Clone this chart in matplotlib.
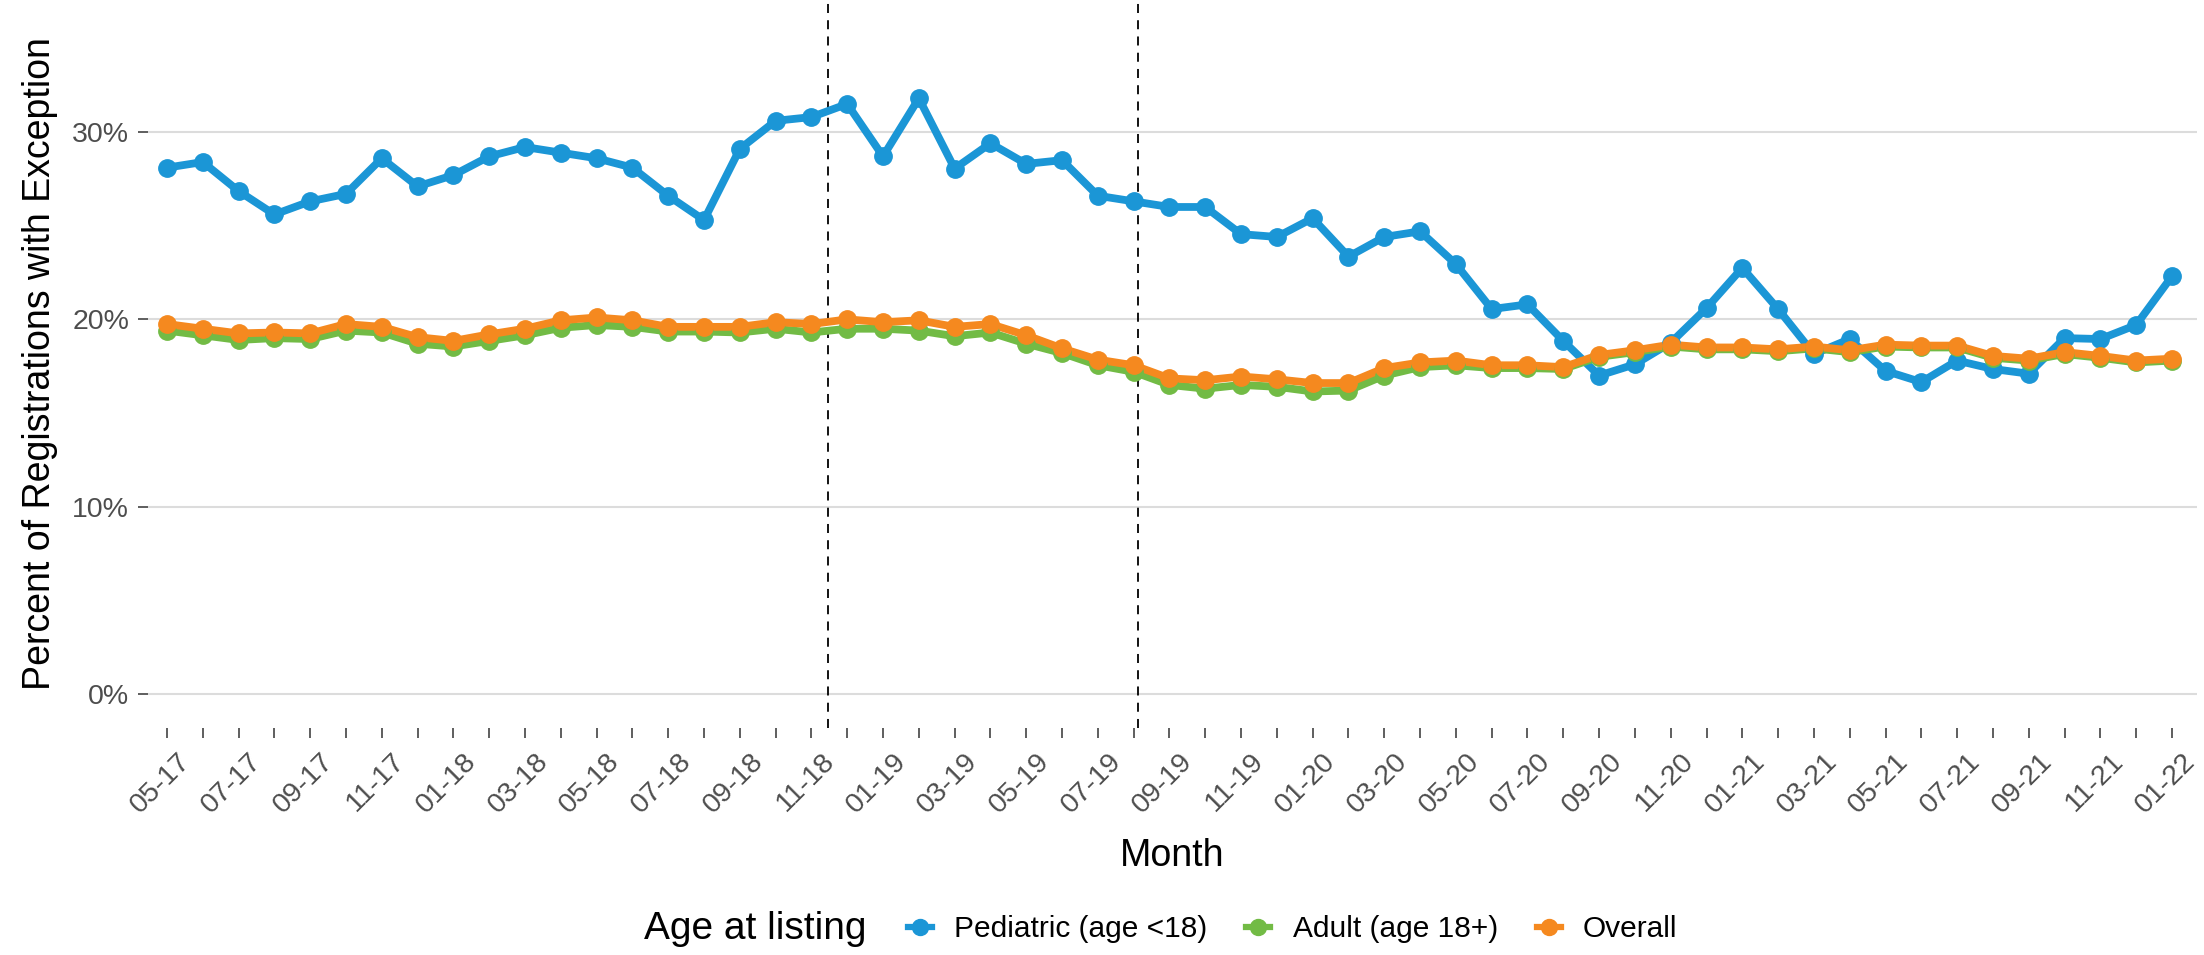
import numpy as np
import pandas as pd
import matplotlib
matplotlib.use("Agg")
import matplotlib.pyplot as plt
import matplotlib.transforms as mtrans
from matplotlib.lines import Line2D

plt.rcParams['font.family'] = ['Liberation Sans', 'DejaVu Sans']

# monthly data, May 2017 - Jan 2022
months = pd.date_range('2017-05-01', '2022-01-01', freq='MS')
month_labels = [m.strftime('%m-%y') for m in months]

pediatric = [28.1, 28.4, 26.85, 25.6, 26.3, 26.7, 28.6, 27.1, 27.7, 28.7,
             29.2, 28.9, 28.6, 28.1, 26.6, 25.3, 29.1, 30.6, 30.8, 31.5,
             28.7, 31.8, 28.05, 29.4, 28.3, 28.5, 26.6, 26.3, 26.0, 26.0,
             24.55, 24.4, 25.4, 23.35, 24.4, 24.7, 22.95, 20.55, 20.8, 18.85,
             17.0, 17.6, 18.75, 20.6, 22.75, 20.55, 18.15, 18.95, 17.25, 16.65,
             17.8, 17.35, 17.1, 19.0, 18.95, 19.7, 22.3]

adult = [19.4, 19.15, 18.9, 19.0, 18.95, 19.4, 19.3, 18.7, 18.55, 18.85,
         19.15, 19.55, 19.7, 19.6, 19.35, 19.35, 19.3, 19.5, 19.3, 19.5,
         19.5, 19.4, 19.1, 19.3, 18.7, 18.2, 17.55, 17.2, 16.5, 16.3,
         16.5, 16.4, 16.15, 16.2, 17.0, 17.45, 17.55, 17.4, 17.4, 17.35,
         18.0, 18.25, 18.55, 18.4, 18.4, 18.3, 18.45, 18.25, 18.55, 18.5,
         18.5, 17.95, 17.8, 18.15, 17.95, 17.7, 17.8]

overall = [19.75, 19.5, 19.25, 19.3, 19.25, 19.75, 19.6, 19.05, 18.85, 19.2,
           19.5, 19.95, 20.1, 19.95, 19.6, 19.6, 19.6, 19.85, 19.75, 20.0,
           19.85, 19.95, 19.6, 19.75, 19.15, 18.45, 17.85, 17.55, 16.85, 16.75,
           16.95, 16.8, 16.6, 16.6, 17.4, 17.7, 17.8, 17.55, 17.55, 17.45,
           18.1, 18.35, 18.65, 18.5, 18.5, 18.4, 18.55, 18.35, 18.65, 18.6,
           18.6, 18.05, 17.9, 18.25, 18.05, 17.8, 17.9]

series_names = ['Pediatric (age <18)', 'Adult (age 18+)', 'Overall']
series_colors = ['#1b96d6', '#72bb45', '#f5891f']
policy_lines = [18.47, 27.13]  # month index of the dashed reference lines

x = np.arange(len(months))
all_series = [pediatric, adult, overall]

fig = plt.figure(figsize=(22.04, 9.55), dpi=100)
ax = fig.add_axes([148 / 2204, 1 - 728 / 955, (2197 - 148) / 2204, 728 / 955])

for xv in policy_lines:
    ax.axvline(xv, color='black', lw=1.3, ls=(0, (5, 4)), zorder=1)

# lines first, then points (ggplot layer order)
for vals, col in zip(all_series, series_colors):
    ax.plot(x, vals, color=col, lw=5.6, solid_capstyle='round',
            solid_joinstyle='round', zorder=2)
for vals, col in zip(all_series, series_colors):
    ax.plot(x, vals, ls='none', marker='o', ms=12.5, color=col, zorder=3)

ax.set_xlim(-0.53, 56.7)
ax.set_ylim(-1.815, 37.05)
ax.set_yticks([0, 10, 20, 30])
ax.set_yticklabels(['0%', '10%', '20%', '30%'])
ax.yaxis.grid(True, color='#dcdcdc', lw=1.5)
ax.set_axisbelow(True)
for s in ax.spines.values():
    s.set_visible(False)

ax.set_xticks(x)
ax.set_xticklabels([lab if i % 2 == 0 else '' for i, lab in enumerate(month_labels)])
ax.tick_params(axis='x', length=7.5, width=1.1, color='#333333', pad=7,
               labelsize=20.5, labelcolor='#4d4d4d')
ax.tick_params(axis='y', length=7.5, width=1.1, color='#333333', pad=6,
               labelsize=20.5, labelcolor='#4d4d4d')
offset = mtrans.ScaledTranslation(10 / 100, 0, fig.dpi_scale_trans)
for lab in ax.get_xticklabels():
    lab.set_rotation(45)
    lab.set_rotation_mode('anchor')
    lab.set_ha('right')
    lab.set_va('top')
    lab.set_transform(lab.get_transform() + offset)

fig.text(1172 / 2204, 1 - 856 / 955, 'Month', ha='center', va='center', fontsize=27)
fig.text(40 / 2204, 1 - 364 / 955, 'Percent of Registrations with Exception',
         rotation=90, ha='center', va='center', fontsize=27)

# legend at the bottom, title to the left
fig.text(644 / 2204, 1 - 929 / 955, 'Age at listing', ha='left', va='center', fontsize=28)
handles = [Line2D([], [], color=c, lw=4.5, marker='o', ms=11.5) for c in series_colors]
fig.legend(handles, series_names, loc='center left', bbox_to_anchor=(908 / 2204, 1 - 929 / 955),
           ncol=3, frameon=False, fontsize=21.5, handlelength=0.8, handletextpad=0.75,
           columnspacing=1.3, borderpad=0, borderaxespad=0)

fig.savefig('out.png', dpi=100, facecolor='white')
